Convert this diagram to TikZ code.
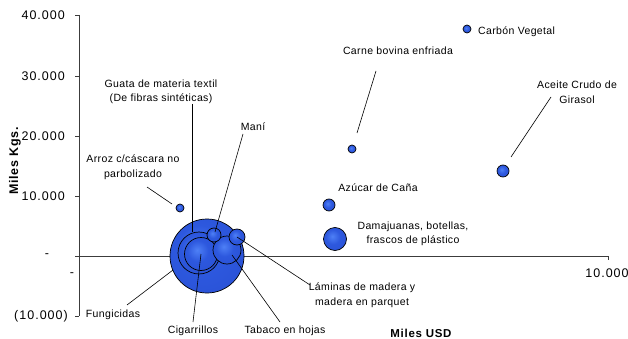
\documentclass[tikz,border=0pt]{standalone}
\usepackage{fontspec}
\setmainfont{Liberation Sans}
\newfontfamily\lblfont[LetterSpace=3.5]{Liberation Sans}
\newfontfamily\tickfont[LetterSpace=8]{Liberation Sans}
\newfontfamily\axfont[LetterSpace=6]{Liberation Sans}
\definecolor{bubin}{RGB}{78,128,246}
\definecolor{bubmid}{RGB}{45,88,222}
\definecolor{bubout}{RGB}{28,56,182}
\definecolor{axisgray}{RGB}{60,60,60}
\pgfdeclareradialshading{bubshade}{\pgfpoint{-6bp}{6bp}}{color(0bp)=(bubin); color(16bp)=(bubmid); color(44bp)=(bubmid!70!bubout); color(56bp)=(bubout); color(70bp)=(bubout)}
\tikzset{
  bub/.style={circle, draw=black, line width=0.7pt, inner sep=0pt, shading=bubshade, minimum size=#1},
  lbl/.style={inner sep=0pt, align=center, font=\lblfont\fontsize{10.5}{14.5}\selectfont},
  tick/.style={inner sep=0pt, font=\tickfont\fontsize{12.5}{14}\selectfont},
  axlbl/.style={inner sep=0pt, font=\axfont\bfseries\fontsize{12.5}{14}\selectfont},
  axisline/.style={draw=axisgray, line width=0.8pt},
  leader/.style={draw=black, line width=0.6pt}
}
\begin{document}
\begin{tikzpicture}[x=1pt,y=-1pt]
\useasboundingbox (0,0) rectangle (628,339);
% axes
\draw[axisline] (79,15) -- (79,316);
\foreach \yy in {15,76,136,196,256,316} \draw[axisline] (75,\yy) -- (79,\yy);
\draw[axisline] (79,256) -- (608,256) -- (608,260);
% tick labels
\node[tick, anchor=east] (t40) at (65,15) {40.000};
\node[tick, anchor=east] (t30) at (65,76) {30.000};
\node[tick, anchor=east] (t20) at (65,136) {20.000};
\node[tick, anchor=east] (t10) at (65,196) {10.000};
\node[tick] (t0) at (47,256) {-};
\node[tick] (tx0) at (72,275) {-};
\node[tick, anchor=east] (tm10) at (68,316) {(10.000)};
\node[tick] (tx10) at (607,273) {10.000};
% axis titles
\node[axlbl, rotate=90] (ylab) at (15,161) {Miles Kgs.};
\node[axlbl, font=\axfont\bfseries\fontsize{11.5}{14}\selectfont] (xlab) at (421,333) {Miles USD};
% bubbles
\node[bub=74pt] (fung) at (207,256) {};
\node[bub=42pt] (guata) at (199,253) {};
\node[bub=33pt] (cig) at (201,254) {};
\node[bub=28pt] (tab) at (227,250) {};
\node[bub=14pt] (mani) at (214,235) {};
\node[bub=16pt] (lam) at (237,237) {};
\node[bub=8pt] (arroz) at (180,208) {};
\node[bub=8pt] (carne) at (352,149) {};
\node[bub=8pt] (carbon) at (467,29) {};
\node[bub=12pt] (aceite) at (503,171) {};
\node[bub=12pt] (azucar) at (329,205) {};
\node[bub=23pt] (dama) at (335,239) {};
% labels
\node[lbl, anchor=west] (Lcarbon) at (478,32) {Carbón Vegetal};
\node[lbl] (Lcarne) at (398,51) {Carne bovina enfriada};
\node[lbl] (Laceite) at (577,92) {Aceite Crudo de\\Girasol};
\node[lbl] (Lazucar) at (378,188) {Azúcar de Caña};
\node[lbl] (Ldama) at (413,234) {Damajuanas, botellas,\\frascos de plástico};
\node[lbl] (Lguata) at (161,92) {Guata de materia textil\\(De fibras sintéticas)};
\node[lbl] (Lmani) at (253,127) {Maní};
\node[lbl] (Larroz) at (133,167) {Arroz c/cáscara no\\parbolizado};
\node[lbl] (Lfung) at (113,315) {Fungicidas};
\node[lbl] (Lcig) at (193,331) {Cigarrillos};
\node[lbl] (Ltab) at (285,331) {Tabaco en hojas};
\node[lbl] (Llam) at (362,295) {Láminas de madera y\\madera en parquet};
% leader line ends
\coordinate (cCarne1) at (376,71);  \coordinate (cCarne2) at (357,133);
\coordinate (cAce1) at (551,97);    \coordinate (cAce2) at (511,157);
\coordinate (cGuata1) at (192,104); \coordinate (cGuata2) at (192,232);
\coordinate (cMani1) at (243,134);  \coordinate (cMani2) at (215,232);
\coordinate (cArroz1) at (147,187); \coordinate (cArroz2) at (172,204);
\coordinate (cFung1) at (127,305);  \coordinate (cFung2) at (173,270);
\coordinate (cCig1) at (193,322);
\coordinate (cTab1) at (232,255);   \coordinate (cTab2) at (280,322);
\coordinate (cLam1) at (310,285);
% leaders
\draw[leader] (cCarne1) -- (cCarne2);
\draw[leader] (cAce1) -- (cAce2);
\draw[leader] (cGuata1) -- (cGuata2);
\draw[leader] (cMani1) -- (cMani2);
\draw[leader] (cArroz1) -- (cArroz2);
\draw[leader] (cFung1) -- (cFung2);
\draw[leader] (cCig1) -- (cig.center);
\draw[leader] (cTab1) -- (cTab2);
\draw[leader] (lam.center) -- (cLam1);
\end{tikzpicture}
\end{document}
